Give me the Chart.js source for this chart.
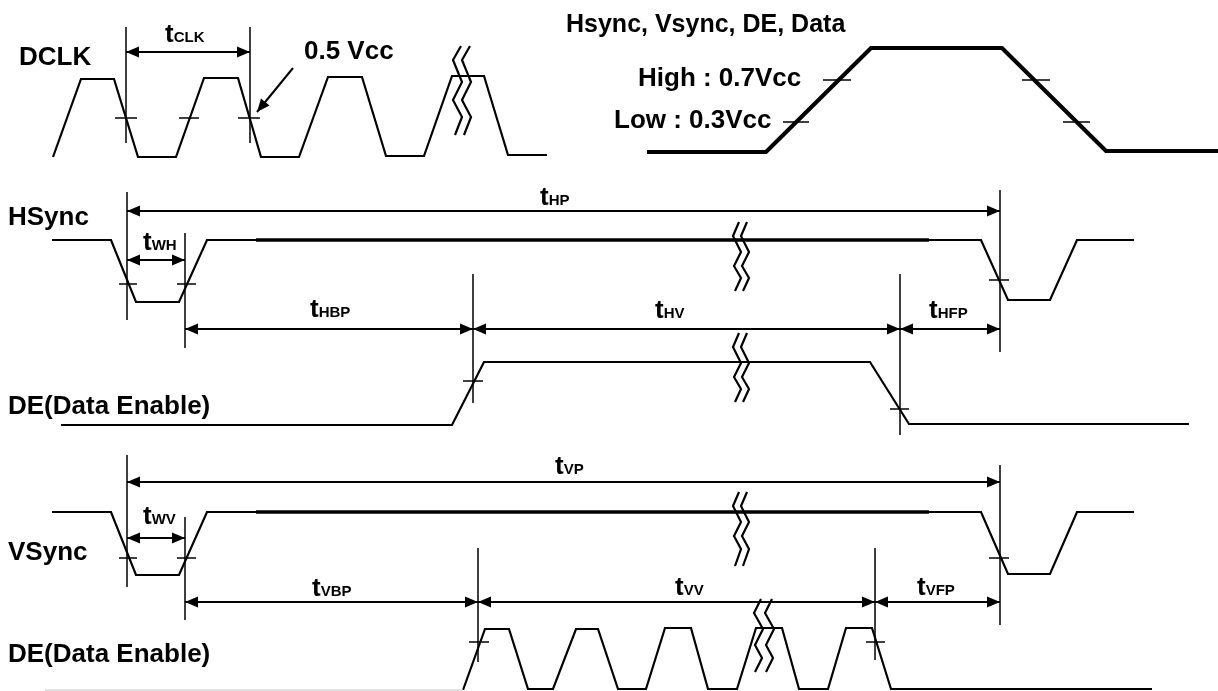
<!DOCTYPE html>
<html><head><meta charset="utf-8">
<script src="https://cdn.jsdelivr.net/npm/chart.js@4/dist/chart.umd.min.js"></script>
<style>html,body{margin:0;padding:0;background:#fff;overflow:hidden}#wrap{width:1218px;height:691px}</style>
</head><body><div id="wrap"><canvas id="c" width="1218" height="691"></canvas></div>
<script>
// ---- waveforms (diagram units: x = time position, y = level position) ----
const dclkWave = [[53,157],[81,79],[114,79],[138,157],[176,157],[204,78],[238,78],[261,157],[299,157],[328,77],[362,77],[386,156],[424,156],[452,76],[484,76],[508,155],[547,155]];
const levelWave = [[647,152],[766,152],[871,48],[1002,48],[1106,151],[1218,151]];
const hsyncWave = [[52,240],[111,240],[136,302],[179,302],[207,240],[981,240],[1008,300],[1050,300],[1077,240],[1134,240]];
const hsyncBold = [[256,240],[929,240]];
const deWave = [[61,425],[452,425],[484,362],[870,362],[909,424],[1189,424]];
const vsyncWave = [[52,512],[111,512],[136,575],[179,575],[207,512],[981,512],[1008,574],[1050,574],[1077,512],[1134,512]];
const vsyncBold = [[256,512],[929,512]];
const deDataWave = [[463,690],[485,629],[509,629],[528,689],[553,689],[576,629],[598,629],[618,689],[646,689],[665,628],[691,628],[708,689],[737,689],[756,628],[782,628],[799,689],[828,689],[846,628],[872,628],[891,689],[1152,689]];
const baseLine = [[45,690],[463,690]];

// ---- threshold ticks ----
const ticks = [
  [[115,118],[137,118]],[[179,118],[199,118]],[[238,118],[260,118]],
  [[823,80],[851,80]],[[1022,80],[1050,80]],[[783,122],[809,122]],[[1063,122],[1090,122]],
  [[119,284],[137,284]],[[177,284],[196,284]],[[989,280],[1009,280]],
  [[463,381],[483,381]],[[890,409],[909,409]],
  [[119,558],[137,558]],[[177,558],[196,558]],[[989,558],[1009,558]],
  [[469,642],[489,642]],[[866,642],[885,642]]
];

// ---- reference (extension) lines ----
const refLines = [
  [[126,27],[126,143]],[[250,27],[250,143]],
  [[127,192],[127,320]],[[185,233],[185,348]],[[473,274],[473,403]],[[900,274],[900,435]],[[1000,190],[1000,352]],
  [[127,455],[127,587]],[[185,517],[185,620]],[[478,548],[478,662]],[[875,548],[875,660]],[[1000,465],[1000,625]]
];

// ---- dimension arrows ----
const dimArrows = [
  [[126,52],[250,52]],
  [[127,211],[1000,211]],[[127,260],[185,260]],[[185,329],[473,329]],[[473,329],[900,329]],[[900,329],[1000,329]],
  [[127,482],[1000,482]],[[127,538],[185,538]],[[185,602],[478,602]],[[478,602],[875,602]],[[875,602],[1000,602]]
];
const pointerArrow = [[293,68],[257,112]];

// ---- break marks (left zigzag; right one is offset) ----
const breakMarks = [
  {pts:[[461,46],[453,60],[462,82],[453,100],[462,117],[455,135]], dx:9},
  {pts:[[739,222],[733,236],[741,252],[734,266],[741,278],[735,291]], dx:8},
  {pts:[[739,333],[733,347],[741,363],[734,377],[741,389],[735,402]], dx:8},
  {pts:[[739,492],[733,506],[741,522],[734,536],[741,549],[735,566]], dx:8},
  {pts:[[761,599],[754,613],[763,629],[755,645],[762,658],[755,672]], dx:11}
];

// ---- text ----
const plainLabels = [
  ['DCLK',19,58,26],['0.5 Vcc',304,52,26],['Hsync, Vsync, DE, Data',566,25,25],
  ['High : 0.7Vcc',638,79,26],['Low : 0.3Vcc',614,121,26],
  ['HSync',8,218,26],['DE(Data Enable)',8,407,26],['VSync',8,553,26],['DE(Data Enable)',8,655,26]
];
const timeLabels = [
  ['CLK',165,42],['HP',540,205],['WH',143,250],['HBP',310,317],['HV',655,318],['HFP',929,318],
  ['VP',555,474],['WV',143,524],['VBP',312,596],['VV',675,595],['VFP',917,595]
];

const pts = a => a.map(p => ({x:p[0], y:p[1]}));
const line = (a, w, color, extra) => Object.assign({data:pts(a), borderColor:color||'#000', borderWidth:w, showLine:true, pointRadius:0, fill:false, tension:0, borderJoinStyle:'miter'}, extra||{});

const datasets = [];
datasets.push(line(baseLine, 1.5, '#d8d8d8'));
datasets.push(line(dclkWave, 2.2));
datasets.push(line(levelWave, 4.2));
datasets.push(line(hsyncWave, 2.2));
datasets.push(line(hsyncBold, 3.4));
datasets.push(line(deWave, 2.2));
datasets.push(line(vsyncWave, 2.2));
datasets.push(line(vsyncBold, 3.4));
datasets.push(line(deDataWave, 2.2));
ticks.forEach(t => datasets.push(line(t, 1.5)));
refLines.forEach(t => datasets.push(line(t, 1.5)));
dimArrows.forEach(t => datasets.push(line(t, 2, '#000', {arrow:'both'})));
datasets.push(line(pointerArrow, 2, '#000', {arrow:'end'}));
breakMarks.forEach(b => {
  datasets.push(line(b.pts, 2.2, '#000', {borderJoinStyle:'miter'}));
  datasets.push(line(b.pts.map(p => [p[0]+b.dx, p[1]]), 2.2, '#000'));
});

const decor = {
  id:'decor',
  afterDatasetsDraw(chart){
    const ctx = chart.ctx, xs = chart.scales.x, ys = chart.scales.y;
    const X = v => xs.getPixelForValue(v), Y = v => ys.getPixelForValue(v);
    ctx.save();
    ctx.fillStyle = '#000';
    const head = (tx, ty, fx, fy) => {
      const ang = Math.atan2(ty-fy, tx-fx), L = 13, W = 5.5;
      ctx.beginPath();
      ctx.moveTo(tx, ty);
      ctx.lineTo(tx - L*Math.cos(ang) + W*Math.sin(ang), ty - L*Math.sin(ang) - W*Math.cos(ang));
      ctx.lineTo(tx - L*Math.cos(ang) - W*Math.sin(ang), ty - L*Math.sin(ang) + W*Math.cos(ang));
      ctx.closePath(); ctx.fill();
    };
    chart.data.datasets.forEach(ds => {
      if (!ds.arrow) return;
      const a = ds.data[0], b = ds.data[ds.data.length-1];
      const ax = X(a.x), ay = Y(a.y), bx = X(b.x), by = Y(b.y);
      head(bx, by, ax, ay);
      if (ds.arrow === 'both') head(ax, ay, bx, by);
    });
    const fam = '"Liberation Sans", Arial, Helvetica, sans-serif';
    ctx.textAlign = 'left';
    ctx.textBaseline = 'middle';
    plainLabels.forEach(l => {
      ctx.font = 'bold ' + l[3] + 'px ' + fam;
      ctx.fillText(l[0], X(l[1]), Y(l[2]));
    });
    ctx.textBaseline = 'alphabetic';
    timeLabels.forEach(l => {
      ctx.font = 'bold 26px ' + fam;
      const x0 = X(l[1]), y0 = Y(l[2]);
      ctx.fillText('t', x0, y0);
      const w = ctx.measureText('t').width;
      ctx.font = 'bold 15px ' + fam;
      ctx.fillText(l[0], x0 + w, y0);
    });
    ctx.restore();
  }
};

new Chart(document.getElementById('c'), {
  type:'scatter',
  data:{datasets},
  options:{
    responsive:false, animation:false, devicePixelRatio:1,
    layout:{padding:0},
    scales:{
      x:{type:'linear', min:0, max:1218, display:false},
      y:{type:'linear', min:0, max:691, reverse:true, display:false}
    },
    plugins:{legend:{display:false}, tooltip:{enabled:false}},
    elements:{line:{capBezierPoints:false}}
  },
  plugins:[decor]
});
</script>
</body></html>
